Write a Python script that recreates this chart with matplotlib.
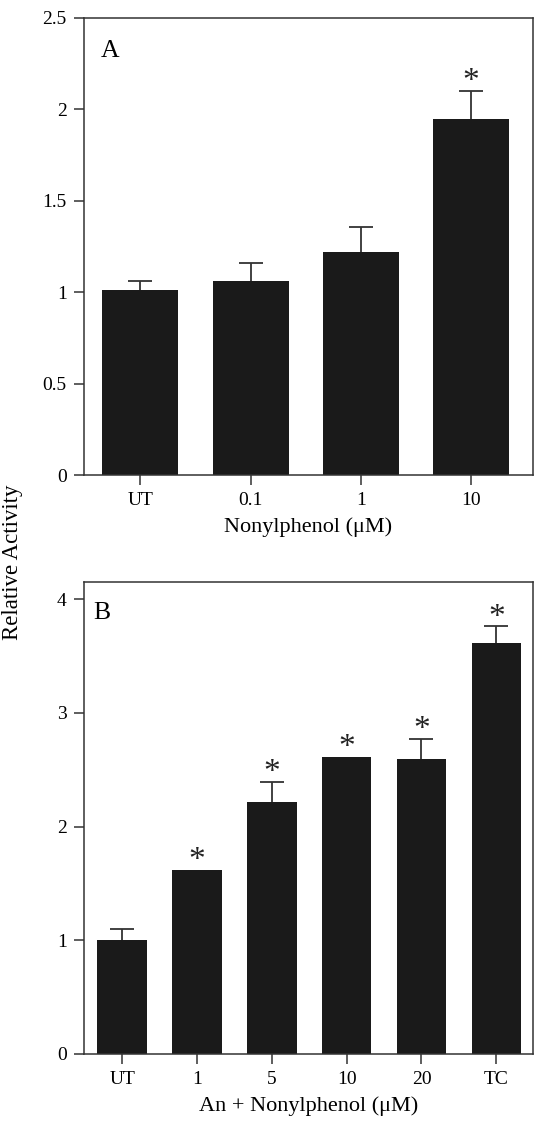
import numpy as np
import matplotlib
matplotlib.use("Agg")
import matplotlib.pyplot as plt

plt.rcParams['font.family'] = ['Liberation Serif', 'DejaVu Serif']

# panel A data
cats_a = ["UT", "0.1", "1", "10"]
vals_a = [1.01, 1.06, 1.22, 1.95]
errs_a = [0.05, 0.10, 0.135, 0.15]
sig_a = [False, False, False, True]

# panel B data
cats_b = ["UT", "1", "5", "10", "20", "TC"]
vals_b = [1.00, 1.62, 2.22, 2.61, 2.59, 3.61]
errs_b = [0.10, 0.0, 0.17, 0.0, 0.18, 0.15]
sig_b = [False, True, True, True, True, True]

bar_color = '#1a1a1a'
line_color = '#333333'

fig = plt.figure(figsize=(5.48, 11.33), dpi=100)
ax_a = fig.add_axes([84/548, 658/1133, 449/548, 457/1133])
ax_b = fig.add_axes([84/548, 79/1133, 449/548, 472/1133])


def draw_panel(ax, cats, vals, errs, sig, width, ylim, yticks, yticklabels,
               xlim, xlabel, letter, letter_pos):
    x = np.arange(len(cats))
    ax.bar(x, vals, width=width, color=bar_color, zorder=2)
    for xi, v, e in zip(x, vals, errs):
        if e > 0:
            # below the bars so only the upper half shows
            ax.errorbar(xi, v, yerr=e, fmt='none', ecolor=line_color,
                        elinewidth=1.3, capsize=8.5, capthick=1.3, zorder=1)
    for xi, v, e, s in zip(x, vals, errs, sig):
        if s:
            ax.annotate('*', xy=(xi, v + e), xytext=(0, 0.5),
                        textcoords='offset points', ha='center', va='baseline',
                        fontsize=24, color='#222222')
    ax.set_xlim(*xlim)
    ax.set_ylim(*ylim)
    ax.set_xticks(x)
    ax.set_xticklabels(cats, fontsize=14)
    ax.set_yticks(yticks)
    ax.set_yticklabels(yticklabels, fontsize=14)
    ax.tick_params(direction='out', length=7.5, width=1.1, color=line_color, pad=5)
    for sp in ax.spines.values():
        sp.set_color(line_color)
        sp.set_linewidth(1.1)
    ax.set_xlabel(xlabel, fontsize=16, labelpad=6)
    ax.text(letter_pos[0], letter_pos[1], letter, transform=ax.transAxes,
            fontsize=18.5, ha='left', va='baseline')


draw_panel(ax_a, cats_a, vals_a, errs_a, sig_a, 0.69, (0, 2.5),
           [0, 0.5, 1, 1.5, 2, 2.5], ["0", "0.5", "1", "1.5", "2", "2.5"],
           (-0.51, 3.56), "Nonylphenol (\u03bcM)", "A", (0.038, 0.915))

draw_panel(ax_b, cats_b, vals_b, errs_b, sig_b, 0.66, (0, 4.15),
           [0, 1, 2, 3, 4], ["0", "1", "2", "3", "4"],
           (-0.51, 5.49), "An + Nonylphenol (\u03bcM)", "B", (0.02, 0.922))

fig.text(13/548, 1 - 562/1133, "Relative Activity", rotation=90,
         ha='center', va='center', fontsize=16.5)

fig.savefig("out.png", dpi=100, facecolor='white')
